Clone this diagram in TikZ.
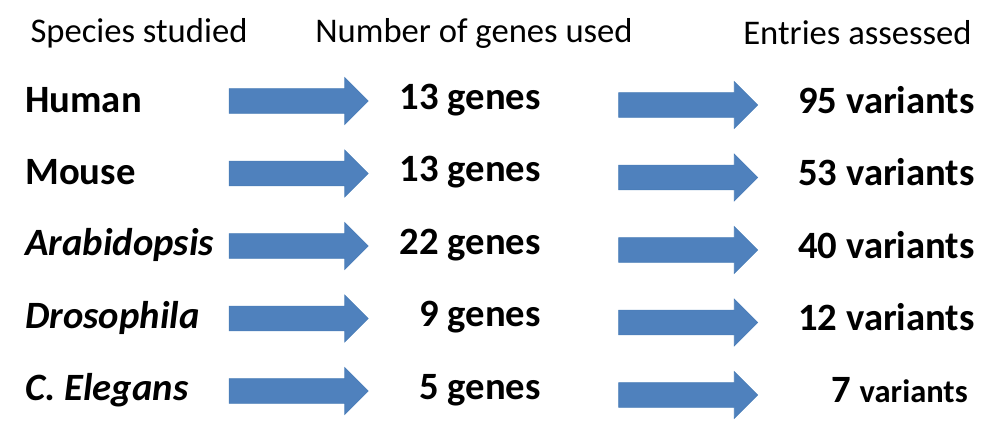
\documentclass[tikz,border=0pt]{standalone}
\usepackage{fontspec}
\setmainfont{Carlito}
\usepackage{tikz}
\usetikzlibrary{shapes, arrows, positioning}
\usepackage{xcolor}
\definecolor{cArrow}{HTML}{4F81BD}
\definecolor{cArrowLine}{HTML}{4A7DB8}
\definecolor{cText}{HTML}{000000}
\tikzset{
  head/.style = {
    font=\fontsize{19.7}{24}\selectfont,
    text=cText,
    inner sep=0pt
  },
  species/.style = {
    font=\fontsize{22}{26}\selectfont\bfseries,
    text=cText,
    anchor=west,
    inner sep=0pt
  },
  count/.style = {
    font=\fontsize{22}{26}\selectfont\bfseries,
    text=cText,
    anchor=east,
    inner sep=0pt
  },
  bigarrow/.style = {
    single arrow,
    fill=cArrow,
    draw=cArrowLine,
    line width=0.4pt,
    minimum height=2.78cm,
    inner xsep=0pt,
    inner ysep=0.24cm,
    single arrow head extend=0.22cm,
    single arrow tip angle=90
  },
}

\begin{document}
\begin{tikzpicture}
    \useasboundingbox (0,0) rectangle (20,-8.52);
    % column heads
    \node [head] (head-1) at (2.78,-0.66) {Species studied};
    \node [head] (head-2) at (9.48,-0.66) {Number of genes used};
    \node [head] (head-3) at (17.15,-0.66) {Entries assessed};
    % species
    \node [species] (sp-1) at (0.5,-2.0) {Human};
    \node [species] (sp-2) at (0.5,-3.45) {Mouse};
    \node [species] (sp-3) at (0.5,-4.9) {\itshape Arabidopsis};
    \node [species] (sp-4) at (0.5,-6.35) {\itshape Drosophila};
    \node [species] (sp-5) at (0.5,-7.8) {\itshape C. Elegans};
    % genes
    \node [count] (gene-1) at (10.82,-2.0) {13 genes};
    \node [count] (gene-2) at (10.82,-3.45) {13 genes};
    \node [count] (gene-3) at (10.82,-4.9) {22 genes};
    \node [count] (gene-4) at (10.82,-6.35) {9 genes};
    \node [count] (gene-5) at (10.82,-7.8) {5 genes};
    % variants
    \node [count] (var-1) at (19.5,-2.0) {95 variants};
    \node [count] (var-2) at (19.5,-3.45) {53 variants};
    \node [count] (var-3) at (19.5,-4.9) {40 variants};
    \node [count] (var-4) at (19.5,-6.35) {12 variants};
    \node [count] (var-5) at (19.36,-7.8) {7 {\fontsize{18.5}{22}\selectfont variants}};
    % arrows
    \node [bigarrow] (arr-1a) at (5.85,-2.02) {};
    \node [bigarrow] (arr-2a) at (5.85,-3.47) {};
    \node [bigarrow] (arr-3a) at (5.85,-4.92) {};
    \node [bigarrow] (arr-4a) at (5.85,-6.37) {};
    \node [bigarrow] (arr-5a) at (5.85,-7.82) {};
    \node [bigarrow] (arr-1b) at (13.64,-2.1) {};
    \node [bigarrow] (arr-2b) at (13.64,-3.55) {};
    \node [bigarrow] (arr-3b) at (13.64,-5.0) {};
    \node [bigarrow] (arr-4b) at (13.64,-6.45) {};
    \node [bigarrow] (arr-5b) at (13.64,-7.9) {};
  \end{tikzpicture}
\end{document}
